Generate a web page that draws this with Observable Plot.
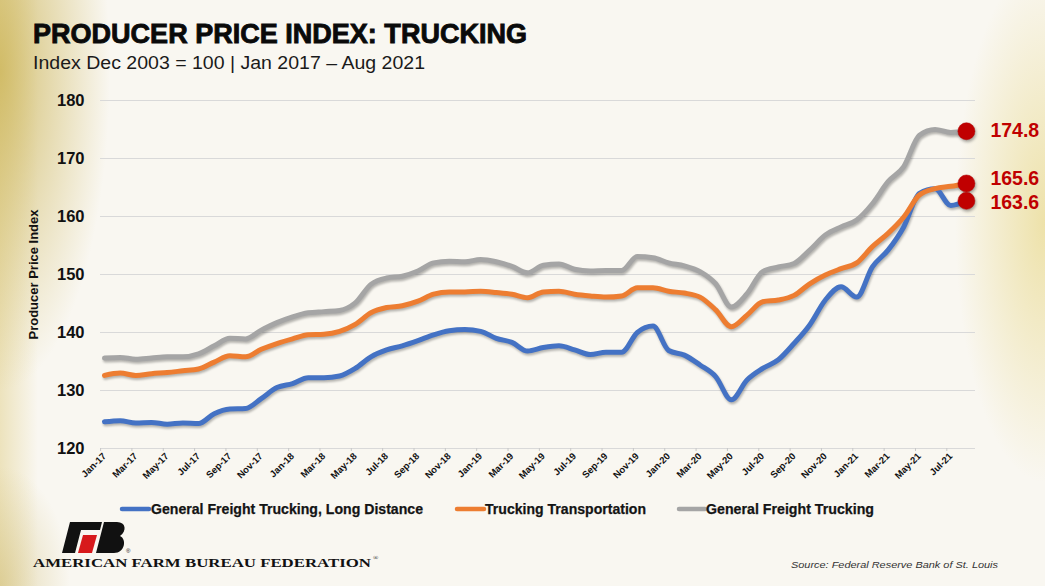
<!DOCTYPE html>
<html>
<head>
<meta charset="utf-8">
<script src="https://cdn.jsdelivr.net/npm/d3@7"></script>
<script src="https://cdn.jsdelivr.net/npm/@observablehq/plot@0.6"></script>
<style>
  html, body { margin: 0; padding: 0; }
  body {
    width: 1045px; height: 586px; overflow: hidden;
    background:
      radial-gradient(ellipse 110px 320px at 0% 12%, rgba(200,175,75,0.75), rgba(200,175,75,0) 100%),
      radial-gradient(ellipse 90px 260px at 100% 38%, rgba(228,208,110,0.55), rgba(228,208,110,0) 100%),
      radial-gradient(ellipse 70px 120px at 0% 100%, rgba(205,185,110,0.5), rgba(205,185,110,0) 100%),
      linear-gradient(to right, rgba(222,202,125,0.45), rgba(222,202,125,0) 38px),
      #f9f7f1;
  }
  #wrap { position: relative; width: 1045px; height: 586px; }
  #chart { position: absolute; left: 0; top: 0; }
  #overlay { position: absolute; left: 0; top: 0; }
  #chart g[aria-label="line"] { filter: drop-shadow(1px 2px 1.2px rgba(0,0,0,0.28)); }
  #chart g[aria-label="dot"] { filter: drop-shadow(1px 2px 1.5px rgba(0,0,0,0.35)); }
</style>
</head>
<body>
<div id="wrap"></div>
<script>
// ---------- DATA ----------
const months = [
  "Jan-17","Feb-17","Mar-17","Apr-17","May-17","Jun-17","Jul-17","Aug-17","Sep-17","Oct-17","Nov-17","Dec-17",
  "Jan-18","Feb-18","Mar-18","Apr-18","May-18","Jun-18","Jul-18","Aug-18","Sep-18","Oct-18","Nov-18","Dec-18",
  "Jan-19","Feb-19","Mar-19","Apr-19","May-19","Jun-19","Jul-19","Aug-19","Sep-19","Oct-19","Nov-19","Dec-19",
  "Jan-20","Feb-20","Mar-20","Apr-20","May-20","Jun-20","Jul-20","Aug-20","Sep-20","Oct-20","Nov-20","Dec-20",
  "Jan-21","Feb-21","Mar-21","Apr-21","May-21","Jun-21","Jul-21","Aug-21"
];

const seriesNames = [
  "General Freight Trucking, Long Distance",
  "Trucking Transportation",
  "General Freight Trucking"
];

const longDistance = [
  124.6,124.8,124.4,124.5,124.2,124.4,124.3,126.0,126.8,126.9,128.6,130.5,
  131.2,132.2,132.2,132.5,133.8,135.8,137.0,137.7,138.6,139.6,140.3,140.5,
  140.2,139.0,138.3,136.8,137.4,137.7,137.0,136.2,136.6,136.6,140.0,141.1,
  136.9,136.1,134.4,132.4,128.4,131.8,133.8,135.3,138.1,141.3,145.6,147.9,
  146.1,151.3,154.2,158.2,164.0,164.8,161.9,162.7
];

const truckingTransportation = [
  132.6,133.0,132.6,132.9,133.1,133.4,133.7,134.9,136.0,135.8,137.1,138.1,
  138.9,139.6,139.7,140.2,141.4,143.4,144.3,144.6,145.4,146.6,147.0,147.0,
  147.1,146.9,146.6,146.0,147.0,147.1,146.6,146.3,146.1,146.3,147.7,147.7,
  147.1,146.8,146.1,143.9,141.0,143.0,145.3,145.6,146.4,148.4,149.9,151.0,
  152.0,154.8,157.1,159.9,163.7,164.8,165.2,165.7
];

const generalFreight = [
  135.6,135.7,135.4,135.6,135.8,135.8,136.3,137.7,139.0,138.9,140.4,141.7,
  142.7,143.4,143.6,143.8,145.1,148.3,149.4,149.7,150.6,152.0,152.3,152.2,
  152.6,152.2,151.4,150.3,151.6,151.8,150.9,150.6,150.7,150.7,153.1,152.9,
  152.0,151.5,150.5,148.4,144.4,146.7,150.5,151.3,151.9,154.2,156.8,158.2,
  159.4,162.2,166.0,168.6,174.0,175.0,174.5,174.7
];

const endLabels = ["163.6", "165.6", "174.8"]; // long distance, trucking transportation, general freight
const yTicks = [120, 130, 140, 150, 160, 170, 180];
const yTitle = "Producer Price Index";
const titleText = "PRODUCER PRICE INDEX: TRUCKING";
const subtitleText = "Index Dec 2003 = 100 | Jan 2017 \u2013 Aug 2021";
const sourceText = "Source: Federal Reserve Bank of St. Louis";
const orgText = "AMERICAN FARM BUREAU FEDERATION";

// ---------- BUILD TABLE ----------
const colors = ["#4472c4", "#ed7d31", "#a5a5a5"];
const allSeries = [longDistance, truckingTransportation, generalFreight];
const rows = [];
allSeries.forEach((vals, s) => vals.forEach((v, i) => rows.push({i, month: months[i], series: seriesNames[s], value: v})));
const last = months.length - 1;
const endPoints = allSeries.map((vals, s) => ({i: last, value: vals[last], series: seriesNames[s], label: endLabels[s]}));
const labelTicks = months.map((m, i) => i).filter(i => i % 2 === 0);
const boundTicks = labelTicks.map(i => i - 0.25);

const font = "'Liberation Sans', Arial, sans-serif";
const chart = Plot.plot({
  width: 1045,
  height: 586,
  marginLeft: 100,
  marginRight: 70,
  marginTop: 100,
  marginBottom: 138,
  style: {background: "transparent", fontFamily: font, color: "#111", overflow: "visible"},
  x: {domain: [-0.255, 55.58]},
  y: {domain: [120, 180]},
  color: {domain: seriesNames, range: colors},
  marks: [
    Plot.gridY(yTicks, {stroke: "#d9d9d9", strokeOpacity: 1, strokeWidth: 1}),
    Plot.axisY({ticks: yTicks, tickSize: 0, tickPadding: 16, fontSize: 16.5, fontWeight: "bold", label: null,
      stroke: "#111", strokeWidth: 0.3}),
    Plot.axisX({ticks: boundTicks, tickSize: 3, tickFormat: () => "", stroke: "#c8c8c8", label: null}),
    Plot.axisX({ticks: labelTicks, tickSize: 0, tickPadding: 6, tickRotate: -45, fontSize: 9.5, fontWeight: "bold",
      tickFormat: i => months[i], label: null}),
    Plot.text([yTitle], {frameAnchor: "left", rotate: -90, dx: -67, textAnchor: "middle", fontSize: 13, fontWeight: "bold",
      fill: "#111"}),
    Plot.line(rows, {x: "i", y: "value", z: "series", stroke: "series", strokeWidth: 5, curve: "monotone-x",
      strokeLinecap: "round", strokeLinejoin: "round"}),
    Plot.dot(endPoints, {x: "i", y: "value", r: 8.5, fill: "#c00000", stroke: "#b00000", strokeWidth: 0.5}),
    Plot.text(endPoints.filter(d => d.series === seriesNames[2]), {x: "i", y: "value", text: "label", dx: 24, dy: 0,
      textAnchor: "start", fill: "#c00000", fontSize: 19.5, fontWeight: "bold"}),
    Plot.text(endPoints.filter(d => d.series === seriesNames[1]), {x: "i", y: "value", text: "label", dx: 24, dy: -5,
      textAnchor: "start", fill: "#c00000", fontSize: 19.5, fontWeight: "bold"}),
    Plot.text(endPoints.filter(d => d.series === seriesNames[0]), {x: "i", y: "value", text: "label", dx: 24, dy: 2,
      textAnchor: "start", fill: "#c00000", fontSize: 19.5, fontWeight: "bold"})
  ]
});
chart.setAttribute("id", "chart");
document.getElementById("wrap").appendChild(chart);

// ---------- TITLES, LEGEND, FOOTER (overlay) ----------
const NS = "http://www.w3.org/2000/svg";
const ov = document.createElementNS(NS, "svg");
ov.setAttribute("id", "overlay");
ov.setAttribute("width", 1045);
ov.setAttribute("height", 586);
document.getElementById("wrap").appendChild(ov);

function txt(str, attrs) {
  const t = document.createElementNS(NS, "text");
  for (const k in attrs) t.setAttribute(k, attrs[k]);
  t.textContent = str;
  ov.appendChild(t);
  return t;
}
function el(tag, attrs) {
  const e = document.createElementNS(NS, tag);
  for (const k in attrs) e.setAttribute(k, attrs[k]);
  ov.appendChild(e);
  return e;
}

txt(titleText, {x: 33, y: 43, "font-family": "'Liberation Sans', Arial, sans-serif", "font-weight": "bold", "font-size": 28,
  fill: "#0a0a0a", stroke: "#0a0a0a", "stroke-width": 0.9, textLength: 494, lengthAdjust: "spacingAndGlyphs"});
txt(subtitleText, {x: 33, y: 69, "font-family": "'Liberation Sans', Arial, sans-serif", "font-size": 17.5,
  fill: "#1a1a1a", textLength: 392, lengthAdjust: "spacingAndGlyphs"});

// legend
const legendFont = "'Liberation Sans', Arial, sans-serif";
const legendPos = [
  {sx1: 122, sx2: 149, tx: 151, tw: 272},
  {sx1: 457, sx2: 484, tx: 485, tw: 161},
  {sx1: 679, sx2: 705, tx: 706, tw: 168}
];
seriesNames.forEach((name, s) => {
  const p = legendPos[s];
  el("line", {x1: p.sx1, x2: p.sx2, y1: 509, y2: 509, stroke: colors[s], "stroke-width": 4.5, "stroke-linecap": "round"});
  txt(name, {x: p.tx, y: 514, "font-family": legendFont, "font-weight": "bold", "font-size": 14.5, fill: "#141414",
    stroke: "#141414", "stroke-width": 0.25, textLength: p.tw, lengthAdjust: "spacingAndGlyphs"});
});

// logo
const g = document.createElementNS(NS, "g");
g.setAttribute("transform", "translate(60,522)");
ov.appendChild(g);
function poly(points, fill) {
  const p = document.createElementNS(NS, "polygon");
  p.setAttribute("points", points); p.setAttribute("fill", fill); g.appendChild(p);
}
poly("10,0 42,0 40,8 21,8 15,31 2,31", "#111");
poly("23,13 37,13 32,31 18,31", "#d7191c");
const bp = document.createElementNS(NS, "path");
bp.setAttribute("d", "M44,0 H57 C66,0 67,9 60,14 C67,17 65,31 54,31 H36 Z");
bp.setAttribute("fill", "#111");
g.appendChild(bp);
txt("\u00ae", {x: 126, y: 553, "font-size": 6, fill: "#111", "font-family": "'Liberation Sans', sans-serif"});

txt(orgText, {x: 33, y: 567, "font-family": "'Liberation Serif', 'Times New Roman', serif", "font-weight": "bold",
  "font-size": 13.5, fill: "#111", textLength: 338, lengthAdjust: "spacingAndGlyphs"});
txt("\u00ae", {x: 373, y: 560, "font-size": 7, fill: "#111", "font-family": "'Liberation Serif', serif"});
txt(sourceText, {x: 791, y: 568, "font-family": "'Liberation Sans', Arial, sans-serif", "font-style": "italic",
  "font-size": 9.5, fill: "#333", textLength: 207, lengthAdjust: "spacingAndGlyphs"});
</script>
</body>
</html>
